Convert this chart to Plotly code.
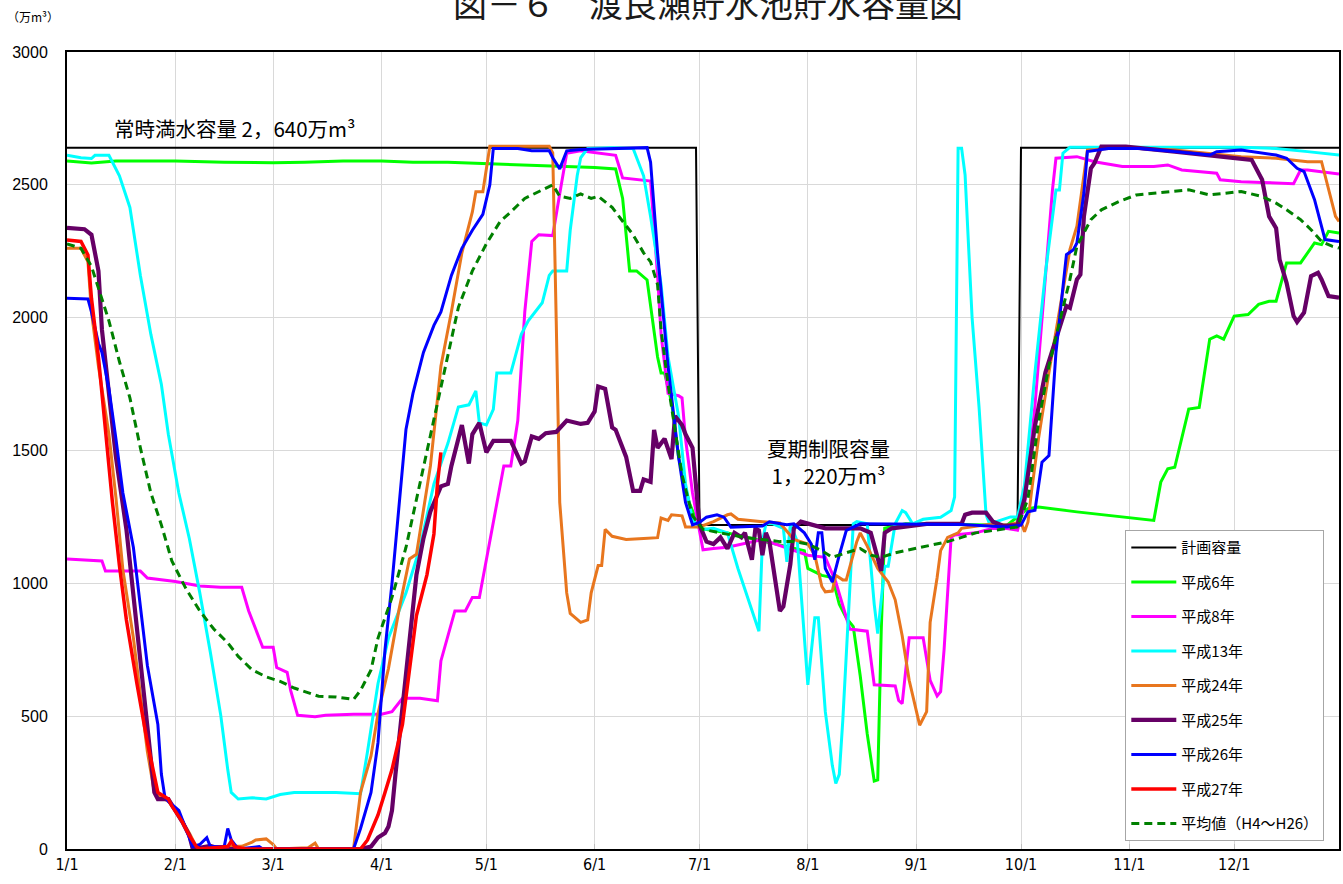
import plotly.graph_objects as go

# ---- axis categories (day index of year, 0 = 1/1) ----
month_start = [0, 31, 59, 90, 120, 151, 181, 212, 243, 273, 304, 334]
month_label = ["1/1", "2/1", "3/1", "4/1", "5/1", "6/1", "7/1", "8/1", "9/1", "10/1", "11/1", "12/1"]
y_ticks = [0, 500, 1000, 1500, 2000, 2500, 3000]

# ---- series: (day index, storage 万m3) ----
plan = [(0, 2640), (180, 2640), (181, 1220), (272, 1220), (273, 2640), (364, 2640)]

h6 = [(0,2590),(7,2582),(14,2590),(31,2590),(45,2585),(59,2583),(68,2585),(79,2590),(90,2590),(99,2585),
      (109,2585),(120,2580),(134,2575),(144,2570),(151,2565),(157,2560),(159,2449),(161,2176),(163,2176),(166,2142),
      (169,1852),(170,1792),(171,1792),(173,1681),(175,1476),(178,1306),(181,1207),(189,1190),(203,1148),(211,1123),
      (212,1056),(216,1030),(219,1022),(221,921),(223,870),(225,837),(227,651),(229,433),(231,256),(232,260),
      (233,820),(234,1207),(240,1224),(255,1222),(269,1219),(275,1281),(278,1287),(289,1269),(298,1256),(311,1237),
      (313,1381),(315,1431),(317,1437),(321,1656),(324,1662),(327,1919),(329,1931),(331,1919),(334,2006),(338,2012),
      (341,2050),(344,2062),(346,2062),(349,2206),(353,2206),(357,2281),(359,2275),(361,2325),(364,2319)]

h8 = [(0,1092),(10,1084),(11,1046),(21,1046),(23,1020),(31,1007),(38,990),(44,985),(50,985),(52,896),
      (56,759),(59,759),(60,683),(63,665),(64,597),(66,503),(71,498),(74,503),(82,507),(90,507),
      (93,517),(96,567),(101,567),(106,558),(107,708),(111,896),(114,896),(116,947),(118,947),(120,1092),
      (123,1305),(125,1442),(127,1442),(129,1613),(131,2022),(133,2287),(135,2312),(139,2309),(141,2466),(143,2619),
      (147,2628),(157,2611),(159,2526),(164,2517),(167,2514),(169,2159),(170,1937),(172,1715),(175,1706),(176,1698),
      (177,1544),(179,1340),(182,1126),(185,1131),(189,1136),(199,1165),(208,1123),(212,1106),(217,1098),(220,1005),
      (224,828),(229,820),(230,719),(231,618),(237,614),(238,559),(239,547),(241,795),(245,795),(247,635),
      (249,576),(250,592),(251,752),(253,1173),(254,1182),(260,1190),(265,1207),(269,1206),(272,1200),(274,1294),
      (277,1669),(280,2169),(282,2481),(283,2600),(289,2606),(294,2587),(302,2569),(311,2569),(315,2575),(319,2556),
      (329,2544),(330,2519),(336,2512),(342,2509),(351,2504),(353,2556),(355,2556),(364,2541)]

h13 = [(0,2611),(4,2602),(7,2599),(8,2611),(12,2611),(15,2534),(18,2415),(21,2159),(24,1937),(27,1749),
       (29,1561),(32,1340),(35,1169),(38,964),(41,742),(44,503),(46,299),(47,213),(49,188),(53,193),
       (57,188),(61,205),(65,213),(77,213),(84,208),(86,367),(89,623),(92,794),(97,964),(101,1135),
       (105,1374),(109,1527),(112,1664),(115,1672),(117,1724),(118,1604),(120,1596),(122,1655),(123,1792),(127,1792),
       (130,1937),(132,1988),(136,2056),(138,2159),(139,2176),(143,2176),(144,2329),(146,2534),(147,2602),(149,2637),
       (156,2640),(162,2637),(165,2534),(167,2381),(170,2125),(172,1852),(175,1630),(177,1374),(179,1237),(182,1203),
       (185,1207),(189,1190),(192,1056),(195,938),(198,820),(199,1157),(200,1224),(202,1224),(205,1207),(206,1081),
       (207,1224),(209,1157),(211,820),(212,618),(214,870),(215,870),(217,517),(219,315),(220,247),(221,281),
       (222,483),(224,988),(225,1224),(226,1232),(229,1224),(231,921),(232,811),(234,1064),(235,1064),(237,1224),
       (239,1274),(240,1266),(242,1224),(245,1241),(250,1249),(253,1274),(254,1325),(255,2638),(256,2638),(257,2537),
       (259,2000),(261,1662),(263,1258),(264,1224),(270,1250),(272,1250),(274,1369),(277,1794),(280,2169),(283,2481),
       (284,2481),(285,2619),(287,2641),(336,2641),(346,2637),(355,2625),(364,2612)]

h24 = [(0,2261),(4,2261),(6,2210),(7,2022),(9,1817),(12,1561),(14,1323),(16,1050),(19,794),(21,572),
       (23,367),(25,213),(27,196),(29,179),(32,128),(35,60),(37,9),(38,0),(45,10),(50,10),
       (53,26),(54,34),(57,38),(59,17),(60,0),(69,5),(71,22),(72,0),(82,0),(84,213),
       (87,350),(89,510),(92,680),(95,900),(98,1092),(100,1109),(104,1442),(107,1817),(110,2022),(113,2244),
       (116,2398),(117,2474),(119,2474),(120,2568),(121,2645),(138,2645),(139,2620),(140,1988),(141,1305),(143,964),
       (144,887),(147,853),(149,862),(150,964),(152,1067),(153,1067),(154,1203),(156,1177),(160,1165),(165,1169),
       (169,1172),(170,1246),(172,1237),(173,1258),(176,1254),(177,1212),(181,1212),(185,1232),(189,1258),(190,1261),
       (192,1241),(199,1232),(204,1227),(208,1165),(212,1148),(214,1106),(216,988),(217,968),(219,971),(220,1030),
       (222,1013),(223,1013),(226,1157),(227,1190),(229,1140),(232,1056),(235,1005),(237,938),(239,803),(241,635),
       (244,466),(246,517),(247,853),(249,1022),(250,1123),(252,1173),(255,1190),(256,1207),(265,1224),(269,1219),
       (273,1231),(274,1194),(275,1231),(276,1344),(278,1544),(281,1794),(284,2019),(287,2256),(289,2344),(290,2444),
       (292,2631),(298,2637),(307,2637),(317,2631),(327,2619),(336,2606),(346,2600),(355,2587),(359,2587),(361,2481),
       (363,2381),(364,2362)]

h25 = [(0,2338),(5,2333),(7,2312),(9,2176),(10,1954),(12,1715),(14,1476),(17,1203),(19,964),(21,708),
       (23,469),(25,213),(26,188),(29,188),(31,145),(33,102),(35,51),(36,0),(41,12),(44,0),
       (84,0),(87,9),(89,43),(91,60),(92,85),(93,145),(94,282),(96,538),(98,794),(100,1032),
       (102,1169),(104,1271),(107,1365),(109,1374),(110,1442),(113,1596),(115,1451),(116,1561),(118,1604),(120,1493),
       (122,1536),(127,1536),(130,1451),(131,1459),(133,1553),(135,1544),(137,1565),(140,1570),(143,1613),(147,1600),
       (149,1604),(151,1647),(152,1741),(154,1732),(156,1587),(157,1578),(160,1476),(162,1348),(164,1348),(165,1391),
       (167,1382),(168,1578),(169,1510),(171,1544),(173,1468),(174,1630),(176,1596),(177,1561),(179,1510),(180,1340),
       (181,1220),(183,1157),(185,1148),(187,1173),(189,1131),(191,1190),(193,1173),(194,1190),(196,1089),(197,1207),
       (198,1199),(199,1106),(200,1190),(201,1157),(203,988),(204,896),(205,913),(207,1072),(208,1207),(210,1232),
       (217,1207),(227,1207),(230,1190),(232,1089),(233,1047),(234,1190),(236,1207),(246,1224),(256,1224),(257,1258),
       (259,1266),(263,1266),(265,1232),(268,1216),(272,1219),(274,1319),(277,1594),(280,1794),(283,1919),(286,2044),
       (287,2037),(289,2144),(290,2162),(291,2381),(293,2562),(294,2581),(296,2644),(303,2644),(317,2625),(327,2612),
       (336,2600),(339,2594),(342,2519),(344,2381),(346,2337),(347,2219),(349,2131),(351,2006),(352,1984),(354,2019),
       (356,2156),(358,2169),(359,2144),(361,2081),(364,2075)]

h26 = [(0,2073),(6,2070),(7,2022),(9,1903),(10,1869),(12,1732),(14,1544),(16,1340),(19,1135),(21,913),
       (23,691),(26,469),(27,282),(28,196),(29,179),(32,145),(34,77),(36,9),(38,17),(40,43),
       (41,9),(45,9),(46,77),(47,34),(49,0),(55,9),(56,0),(82,0),(84,77),(87,213),
       (89,401),(91,750),(93,1000),(95,1290),(97,1579),(99,1715),(102,1869),(105,1971),(107,2022),(110,2159),
       (113,2261),(116,2329),(119,2389),(121,2500),(122,2637),(129,2637),(133,2628),(138,2628),(139,2602),(141,2560),
       (143,2628),(147,2633),(156,2637),(166,2640),(167,2585),(169,2244),(172,1817),(175,1476),(177,1305),(179,1220),
       (181,1229),(183,1249),(186,1258),(188,1249),(190,1211),(199,1216),(201,1232),(206,1221),(208,1224),(211,1190),
       (213,1148),(214,1089),(215,1190),(216,1190),(217,1056),(219,1005),(221,1106),(223,1199),(227,1224),(256,1221),
       (269,1212),(273,1219),(275,1269),(277,1275),(279,1456),(281,1481),(283,1869),(286,2237),(288,2256),(289,2281),
       (291,2469),(292,2625),(298,2637),(307,2637),(317,2625),(327,2612),(329,2625),(336,2631),(346,2612),(349,2600),
       (352,2562),(354,2550),(357,2444),(360,2294),(364,2287)]

h27 = [(0,2292),(4,2287),(6,2236),(7,2073),(9,1852),(11,1561),(13,1305),(15,1067),(17,862),(20,623),
       (23,401),(26,213),(29,188),(30,162),(33,102),(35,51),(37,9),(38,0),(46,9),(47,29),
       (48,9),(51,0),(84,0),(86,34),(89,128),(91,213),(93,299),(96,469),(98,674),(100,879),
       (103,1032),(105,1186),(106,1374),(107,1493)]

avg = [(0,2278),(4,2261),(7,2193),(9,2108),(12,1988),(15,1835),(18,1698),(21,1510),(24,1340),(27,1220),
       (30,1084),(34,981),(38,896),(42,828),(46,776),(49,725),(53,674),(57,648),(61,631),(65,606),
       (69,589),(72,575),(77,572),(82,563),(84,597),(87,674),(89,794),(93,947),(97,1135),(101,1374),
       (105,1613),(109,1852),(112,2039),(116,2176),(120,2278),(124,2363),(127,2398),(131,2449),(135,2474),(139,2500),
       (141,2457),(144,2449),(147,2466),(150,2449),(152,2457),(156,2415),(159,2363),(162,2312),(165,2244),(167,2210),
       (169,2125),(170,1954),(172,1749),(174,1579),(176,1408),(179,1254),(182,1203),(187,1190),(194,1173),(199,1165),
       (204,1157),(208,1157),(212,1148),(216,1123),(219,1098),(223,1115),(227,1131),(230,1106),(233,1098),(237,1115),
       (240,1123),(246,1140),(252,1157),(256,1173),(260,1190),(265,1199),(270,1207),(272,1212),(275,1319),(278,1606),
       (281,1819),(284,1981),(287,2144),(289,2269),(293,2369),(296,2406),(301,2437),(306,2462),(311,2469),(321,2481),
       (327,2462),(336,2475),(342,2456),(346,2431),(349,2406),(353,2369),(356,2331),(359,2287),(362,2269),(364,2262)]

series = [
    ("計画容量", plan, "#000000", 2.0, "solid"),
    ("平成6年", h6, "#00FF00", 3.0, "solid"),
    ("平成8年", h8, "#FF00FF", 3.0, "solid"),
    ("平成13年", h13, "#00FFFF", 3.0, "solid"),
    ("平成24年", h24, "#E8761E", 3.0, "solid"),
    ("平成25年", h25, "#660066", 4.2, "solid"),
    ("平成26年", h26, "#0000FF", 3.0, "solid"),
    ("平成27年", h27, "#FF0000", 3.5, "solid"),
    ("平均値（H4～H26）", avg, "#008000", 3.0, "8px,5px"),
]

JP = "Noto Sans CJK JP, Liberation Sans, sans-serif"

fig = go.Figure()
for i, (name, pts, color, width, dash) in enumerate(series):
    xs, ys = zip(*pts)
    fig.add_trace(go.Scatter(
        x=list(xs), y=list(ys), mode="lines", name=name,
        legendgroup=f"g{i}",
        line=dict(color=color, width=width, dash=dash),
    ))

fig.update_layout(
    width=1343, height=884,
    margin=dict(l=67, r=2, t=52, b=35),
    paper_bgcolor="white", plot_bgcolor="white",
    font=dict(family=JP, size=15, color="#000000"),
    showlegend=True,
    legend=dict(
        x=0.832, y=0.400, xanchor="left", yanchor="top",
        bgcolor="white", bordercolor="#A6A6A6", borderwidth=1,
        font=dict(family=JP, size=15, color="#000000"),
        itemwidth=45, traceorder="grouped", tracegroupgap=12,
    ),
    xaxis=dict(
        range=[0, 364], tickmode="array", tickvals=month_start, ticktext=month_label,
        showgrid=True, gridcolor="#D9D9D9", gridwidth=1,
        showline=True, linecolor="#000000", linewidth=2, mirror=True,
        ticks="inside", ticklen=5, tickcolor="#BFBFBF",
        tickfont=dict(family="Liberation Sans Narrow, DejaVu Sans Condensed, Liberation Sans", size=16, color="#000000"),
        zeroline=False,
    ),
    yaxis=dict(
        range=[0, 3000], tickmode="array", tickvals=y_ticks,
        showgrid=True, gridcolor="#D9D9D9", gridwidth=1,
        showline=True, linecolor="#000000", linewidth=2, mirror=True,
        ticks="", ticklabelstandoff=14,
        tickfont=dict(family="Liberation Sans, Arial, sans-serif", size=16, color="#000000"),
        zeroline=False,
    ),
)

# title (partially above the page top, as in the reference)
fig.add_annotation(text="図－６　渡良瀬貯水池貯水容量図", xref="paper", yref="paper",
                   x=0.504, y=1.0625, xanchor="center", yanchor="middle", showarrow=False,
                   font=dict(family=JP, size=34, color="#1A1A1A"))
fig.add_annotation(text="（万m³）", xref="paper", yref="paper",
                   x=-0.049, y=1.045, xanchor="left", yanchor="middle", showarrow=False,
                   font=dict(family=JP, size=12, color="#000000"))
fig.add_annotation(text="常時満水容量 2，640万m³", xref="x", yref="y",
                   x=13.0, y=2714, xanchor="left", yanchor="middle", showarrow=False,
                   font=dict(family=JP, size=20.5, color="#000000"))
fig.add_annotation(text="夏期制限容量<br>1，220万m³", xref="x", yref="y",
                   x=218, y=1457, xanchor="center", yanchor="middle", showarrow=False,
                   font=dict(family=JP, size=20.5, color="#000000"))

fig.write_html("out.html", post_script="document.body.style.margin='0';",
               config={"displayModeBar": False})
